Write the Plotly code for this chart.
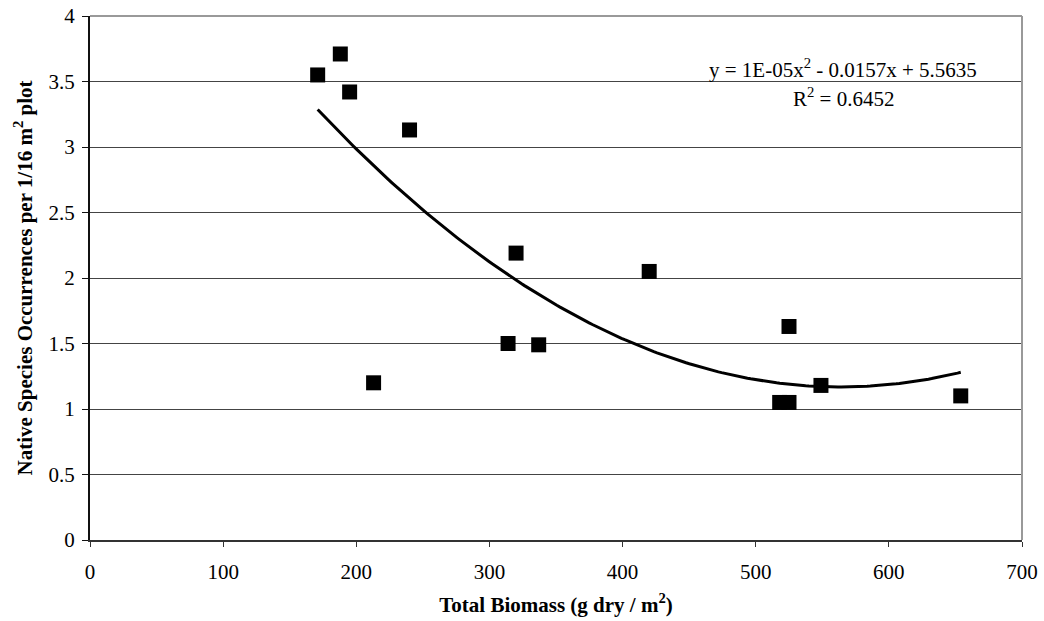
import numpy as np
import plotly.graph_objects as go

biomass = [171, 188, 195, 240, 213, 320, 314, 337, 420, 525, 518, 525, 549, 654]
occurrences = [3.55, 3.71, 3.42, 3.13, 1.20, 2.19, 1.50, 1.49, 2.05, 1.63, 1.05, 1.05, 1.18, 1.10]

x_ticks = [0, 100, 200, 300, 400, 500, 600, 700]
y_ticks = [0, 0.5, 1, 1.5, 2, 2.5, 3, 3.5, 4]

coef = np.polyfit(biomass, occurrences, 2)
xs = np.linspace(min(biomass), max(biomass), 200)
ys = np.polyval(coef, xs)

font = "Liberation Serif, Times New Roman, serif"

fig = go.Figure()
fig.add_trace(go.Scatter(x=xs, y=ys, mode="lines", line=dict(color="black", width=3), hoverinfo="skip"))
fig.add_trace(go.Scatter(x=biomass, y=occurrences, mode="markers",
                         marker=dict(symbol="square", size=15, color="black", line=dict(width=0))))

fig.update_layout(
    width=1044, height=621,
    margin=dict(l=90, r=22, t=16, b=81, autoexpand=False),
    plot_bgcolor="white", paper_bgcolor="white",
    showlegend=False,
    font=dict(family=font, size=21, color="black"),
    shapes=[
        dict(type="line", xref="paper", yref="paper", x0=0, x1=1, y0=1, y1=1, line=dict(color="#999999", width=2)),
        dict(type="line", xref="paper", yref="paper", x0=1, x1=1, y0=0, y1=1, line=dict(color="#999999", width=2)),
    ],
    annotations=[
        dict(text="y = 1E-05x<sup>2</sup> - 0.0157x + 5.5635", xref="paper", yref="paper",
             x=(843 - 90) / 932, y=(540 - 68) / 524, showarrow=False, xanchor="center", yanchor="middle",
             font=dict(family=font, size=21, color="black")),
        dict(text="R<sup>2</sup> = 0.6452", xref="paper", yref="paper",
             x=(843 - 90) / 932, y=(540 - 97) / 524, showarrow=False, xanchor="center", yanchor="middle",
             font=dict(family=font, size=21, color="black")),
    ],
)
fig.update_xaxes(range=[0, 700], tickvals=x_ticks, ticktext=[str(v) for v in x_ticks],
                 showgrid=False, zeroline=False, showline=True, linecolor="#333333", linewidth=2,
                 ticks="outside", ticklen=5, tickcolor="#333333", tickfont=dict(size=21), automargin=False,
                 ticklabelstandoff=7,
                 title=dict(text="<b>Total Biomass (g dry / m<sup>2</sup>)</b>", font=dict(family=font, size=21), standoff=14))
fig.update_yaxes(range=[0, 4], tickvals=y_ticks, ticktext=[str(v) for v in y_ticks],
                 showgrid=True, gridcolor="#444444", gridwidth=1.2, zeroline=False,
                 showline=True, linecolor="#111111", linewidth=2,
                 ticks="outside", ticklen=6, tickcolor="#111111", tickfont=dict(size=21), automargin=False,
                 ticklabelstandoff=3,
                 title=dict(text="<b>Native Species Occurrences per 1/16 m<sup>2</sup> plot</b>", font=dict(family=font, size=21), standoff=10))

fig.write_html("out.html")
